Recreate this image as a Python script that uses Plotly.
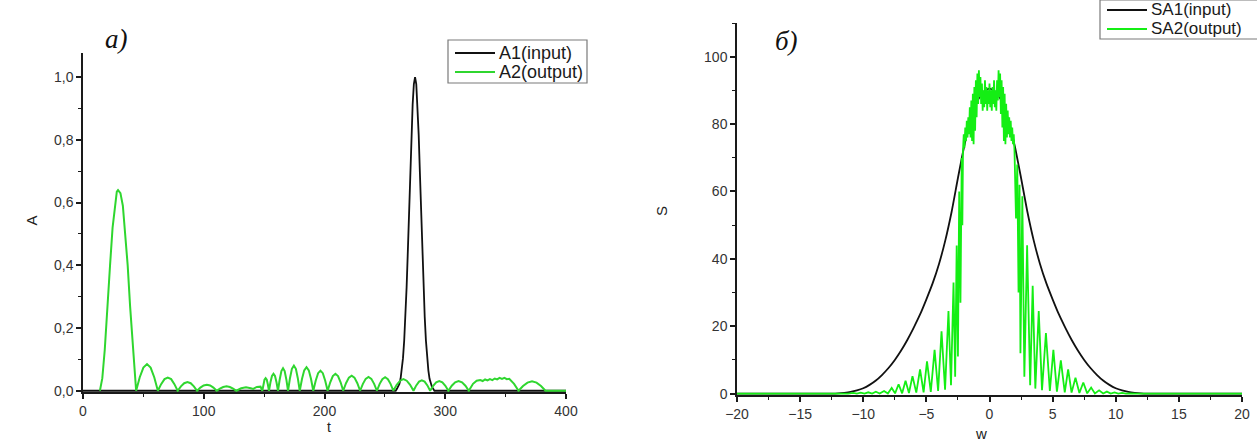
import plotly.graph_objects as go

# ---------------- left panel data: A(t) ----------------
a1_t = [0, 259, 260, 261, 262, 263, 264, 265, 266, 267, 268, 269, 270, 271, 272, 273, 274, 275,
        276, 277, 278, 279, 280, 281, 282, 283, 284, 285, 286, 287, 288, 289, 290, 291, 400]
a1_v = [0, 0, 0.006, 0.012, 0.022, 0.038, 0.065, 0.104, 0.16, 0.235, 0.33, 0.443, 0.568, 0.696, 0.816,
        0.913, 0.978, 1.0, 0.978, 0.913, 0.816, 0.696, 0.568, 0.443, 0.33, 0.235, 0.16, 0.104, 0.065,
        0.038, 0.022, 0.012, 0.006, 0, 0]

a2_t = [14, 16, 18, 19, 21, 22.4, 24.5, 26.5, 28, 29, 31, 33, 35, 37, 39, 40.3, 42, 44,
        47, 50, 53, 56, 59, 62,
        64.7, 67.5, 70.2, 73, 75.7, 78.4,
        81.1, 83.8, 86.5, 89.2, 91.8, 94.5,
        97.2, 99.9, 102.6, 105.3, 108, 110.7,
        113.4, 116.1, 118.9, 121.6, 124.3, 127,
        131, 135, 139, 141, 144, 147, 148.5,
        149.4, 150.3, 151.25, 152.2, 153.1, 154,
        155.25, 156.5, 157.75, 159, 160.25, 161.5,
        162.9, 164.3, 165.65, 167, 168.4, 169.8,
        171.4, 173, 174.65, 176.3, 177.9, 179.5,
        181.4, 183.2, 185.1, 187, 188.8, 190.7,
        192.7, 194.7, 196.65, 198.6, 200.6, 202.6,
        204.75, 206.9, 209.05, 211.2, 213.35, 215.5,
        217.8, 220.2, 222.5, 224.8, 227.2, 229.5,
        231.8, 234.1, 236.45, 238.8, 241.1, 243.4,
        245.7, 247.9, 250.2, 252.5, 254.7, 257,
        259.8, 262.6, 265.35, 268.1, 270.9, 273.7,
        276, 278.3, 280.6, 282.9, 285.2, 287.5,
        290, 292.5, 295.05, 297.6, 300.1, 302.6,
        305.4, 308.2, 311.05, 313.9, 316.7, 319.5,
        323, 326, 329, 331, 333, 335, 337, 339, 341, 343, 345, 347, 349, 351, 353, 355, 357, 360.7,
        364.4, 368.1, 371.85, 375.6, 379.3, 383, 400]
a2_v = [0, 0.04, 0.13, 0.2, 0.32, 0.4, 0.52, 0.6, 0.635, 0.64, 0.63, 0.59, 0.5, 0.4, 0.27, 0.2, 0.1, 0,
        0.043, 0.074, 0.085, 0.074, 0.043, 0,
        0.021, 0.037, 0.042, 0.037, 0.021, 0,
        0.014, 0.024, 0.028, 0.024, 0.014, 0,
        0.01, 0.017, 0.019, 0.017, 0.01, 0,
        0.007, 0.012, 0.014, 0.012, 0.007, 0,
        0.008, 0.011, 0.008, 0.006, 0.012, 0.013, 0,
        0.02, 0.035, 0.04, 0.035, 0.02, 0,
        0.027, 0.047, 0.054, 0.047, 0.027, 0,
        0.036, 0.063, 0.072, 0.063, 0.036, 0,
        0.04, 0.07, 0.08, 0.07, 0.04, 0,
        0.038, 0.065, 0.075, 0.065, 0.038, 0,
        0.032, 0.056, 0.064, 0.056, 0.032, 0,
        0.027, 0.047, 0.054, 0.047, 0.027, 0,
        0.024, 0.042, 0.048, 0.042, 0.024, 0,
        0.022, 0.038, 0.044, 0.038, 0.022, 0,
        0.022, 0.037, 0.043, 0.037, 0.022, 0,
        0.019, 0.032, 0.037, 0.032, 0.019, 0,
        0.017, 0.029, 0.033, 0.029, 0.017, 0,
        0.016, 0.027, 0.031, 0.027, 0.016, 0,
        0.016, 0.027, 0.031, 0.027, 0.016, 0,
        0.022, 0.032, 0.034, 0.031, 0.036, 0.033, 0.037, 0.034, 0.039, 0.036, 0.041, 0.038, 0.041, 0.037, 0.038, 0.031, 0.022, 0,
        0.015, 0.026, 0.03, 0.026, 0.015, 0, 0]

# ---------------- right panel data: S(w) ----------------
sa1_w = [-20, -13, -12.5, -12, -11.5, -11, -10.5, -10, -9.5, -9, -8.5, -8, -7.5, -7, -6.5, -6, -5.5, -5,
         -4.5, -4, -3.5, -3, -2.5, -2, -1.5, -1, -0.5, 0, 0.5, 1, 1.5, 2, 2.5, 3, 3.5, 4, 4.5, 5, 5.5,
         6, 6.5, 7, 7.5, 8, 8.5, 9, 9.5, 10, 10.5, 11, 11.5, 12, 12.5, 13, 20]
sa1_v = [0, 0, 0.03, 0.1, 0.25, 0.5, 0.95, 1.6, 2.6, 3.9, 5.6, 7.6, 10.0, 12.8, 16.0, 19.6, 23.5, 28,
         32.8, 38.5, 45.5, 54, 64, 73.5, 81, 86.5, 89.5, 90.5, 89.5, 86.5, 81, 73.5, 64, 54, 45.5, 38.5,
         32.8, 28, 23.5, 19.6, 16.0, 12.8, 10.0, 7.6, 5.6, 3.9, 2.6, 1.6, 0.95, 0.5, 0.25, 0.1, 0.03, 0, 0]

sa2_w = [-20, -12, -11.2, -10.8, -10.5, -10.2, -9.9, -9.6, -9.3, -9.0, -8.7, -8.35, -8.05,
         -7.75, -7.48, -7.2, -6.92, -6.65, -6.38, -6.1, -5.8, -5.5, -5.22, -4.95, -4.65, -4.35,
         -4.07, -3.8, -3.52, -3.25, -3.05, -2.85, -2.72, -2.6, -2.5, -2.4, -2.3, -2.2, -2.15,
         -2.1, -2.04, -1.98, -1.92, -1.86, -1.8, -1.74, -1.68, -1.62, -1.56, -1.5, -1.44, -1.38,
         -1.32, -1.26, -1.2, -1.14, -1.08, -1.02, -0.96, -0.9, -0.84, -0.78, -0.72, -0.66, -0.6,
         -0.54, -0.48, -0.42, -0.36, -0.3, -0.24, -0.18, -0.12, -0.06, 0.0, 0.06, 0.12, 0.18,
         0.24, 0.3, 0.36, 0.42, 0.48, 0.54, 0.6, 0.66, 0.72, 0.78, 0.84, 0.9, 0.96, 1.02, 1.08,
         1.14, 1.2, 1.26, 1.32, 1.38, 1.44, 1.5, 1.56, 1.62, 1.68, 1.74, 1.8, 1.86, 1.92, 1.98,
         2.1, 2.2, 2.3, 2.38, 2.45, 2.6, 2.76, 2.98, 3.22, 3.42, 3.63, 3.9, 4.16, 4.47, 4.78,
         5.06, 5.34, 5.65, 5.96, 6.23, 6.5, 6.81, 7.12, 7.43, 7.74, 8.05, 8.35, 8.68, 9.0, 9.3,
         9.6, 9.9, 10.2, 10.5, 10.8, 11.1, 11.6, 20]
sa2_v = [0, 0, 0.02, 0.25, 0.02, 0.3, 0.02, 0.4, 0.03, 0.55, 0.05, 0.8, 0.05,
         1.7, 0.1, 2.8, 0.1, 3.8, 0.2, 5.2, 0.3, 7.2, 0.4, 9.6, 0.5, 13,
         0.8, 18.5, 1.2, 24.5, 2.5, 33, 5, 44, 11, 60, 27, 70, 50,
         72, 77, 73, 79, 75, 81, 76, 82, 77, 85, 76, 87, 75,
         89, 74, 91, 78, 93, 82, 95, 86, 96, 88, 94, 86, 92,
         84, 90, 85, 93, 86, 91, 84, 90, 86, 92, 85, 90, 84,
         91, 86, 93, 85, 90, 84, 93, 87, 96, 88, 95, 83, 93, 79, 91,
         75, 89, 74, 86, 76, 84, 77, 82, 76, 81, 75, 79, 74, 77, 72,
         52, 68, 30, 62, 12, 58.6, 5, 44, 2.5, 32, 1.5, 24.5, 1.0, 18, 0.8, 13,
         0.6, 9.9, 0.4, 7.2, 0.3, 4.7, 0.2, 3.3, 0.1, 1.8, 0.05, 1.0, 0.04, 0.6, 0.03,
         0.35, 0.02, 0.2, 0.02, 0.1, 0, 0, 0]

# tick labels
a_ticks = [0, 0.2, 0.4, 0.6, 0.8, 1.0]
a_ticktext = ["0,0", "0,2", "0,4", "0,6", "0,8", "1,0"]
t_ticks = [0, 100, 200, 300, 400]
s_ticks = [0, 20, 40, 60, 80, 100]
w_ticks = [-20, -15, -10, -5, 0, 5, 10, 15, 20]

# legend labels
left_names = ["A1(input)", "A2(output)"]
right_names = ["SA1(input)", "SA2(output)"]

W, H = 1257, 446
BLACK = "#111111"
GREEN_L = "#2fd62f"
GREEN_R = "#14ee14"
FONT = "Liberation Sans, Arial, sans-serif"
SERIF = "Liberation Serif, Times New Roman, serif"


def px(x):
    return x / W


def py(y):
    return 1 - y / H


fig = go.Figure()
fig.add_trace(go.Scatter(x=a1_t, y=a1_v, mode="lines", name=left_names[0],
                         line=dict(color=BLACK, width=1.8), xaxis="x", yaxis="y"))
fig.add_trace(go.Scatter(x=a2_t, y=a2_v, mode="lines", name=left_names[1],
                         line=dict(color=GREEN_L, width=2), xaxis="x", yaxis="y"))
fig.add_trace(go.Scatter(x=sa1_w, y=sa1_v, mode="lines", name=right_names[0],
                         line=dict(color=BLACK, width=1.8, shape="spline", smoothing=0.6),
                         xaxis="x2", yaxis="y2"))
fig.add_trace(go.Scatter(x=sa2_w, y=sa2_v, mode="lines", name=right_names[1],
                         line=dict(color=GREEN_R, width=1.8), xaxis="x2", yaxis="y2"))

axis_common = dict(showgrid=False, zeroline=False, showline=True, linecolor="#1a1a1a", linewidth=1.5,
                   ticks="outside", ticklen=5, tickwidth=1.5, tickcolor="#1a1a1a", automargin=False,
                   tickfont=dict(family=FONT, size=14, color="#333333"))
minor_common = dict(ticks="outside", ticklen=3, tickwidth=1.2, tickcolor="#1a1a1a", showgrid=False)

fig.update_layout(
    width=W, height=H,
    margin=dict(l=0, r=0, t=0, b=0, pad=0, autoexpand=False),
    paper_bgcolor="white", plot_bgcolor="white",
    showlegend=False,
    xaxis=dict(domain=[px(83), px(566)], range=[0, 400], anchor="y",
               tickmode="array", tickvals=t_ticks,
               minor=dict(dtick=50, tick0=0, **minor_common), **axis_common),
    yaxis=dict(domain=[py(392), py(53)], range=[-0.004, 1.077], anchor="x",
               tickmode="array", tickvals=a_ticks, ticktext=a_ticktext,
               minor=dict(dtick=0.1, tick0=0, **minor_common), **axis_common),
    xaxis2=dict(domain=[px(737), px(1242)], range=[-20, 20], anchor="y2",
                tickmode="array", tickvals=w_ticks,
                minor=dict(dtick=2.5, tick0=0, **minor_common), **axis_common),
    yaxis2=dict(domain=[py(395), py(23)], range=[-0.4, 110], anchor="x2",
                tickmode="array", tickvals=s_ticks,
                minor=dict(dtick=10, tick0=0, **minor_common), **axis_common),
)

shapes = []
ann = []


# hand-built legends (box, line samples, labels)
def add_legend(x0, y0, x1, y1, rows, names, colors, line_x0, line_x1, text_x, size):
    shapes.append(dict(type="rect", xref="paper", yref="paper", x0=px(x0), x1=px(x1), y0=py(y1), y1=py(y0),
                       line=dict(color="#7a7a7a", width=1.2), fillcolor="white", layer="above"))
    for ry, nm, col in zip(rows, names, colors):
        shapes.append(dict(type="line", xref="paper", yref="paper", x0=px(line_x0), x1=px(line_x1),
                           y0=py(ry), y1=py(ry), line=dict(color=col, width=2), layer="above"))
        ann.append(dict(text=nm, x=px(text_x), y=py(ry), xref="paper", yref="paper", showarrow=False,
                        xanchor="left", yanchor="middle",
                        font=dict(family=FONT, size=size, color="#1a1a1a")))


add_legend(448, 40, 587, 83, [53, 72], left_names, [BLACK, GREEN_L], 455, 495, 497, 18)
add_legend(1100, 0, 1262, 39, [10, 29], right_names, [BLACK, GREEN_R], 1107, 1147, 1149, 17)

ann.append(dict(text="a)", x=px(103), y=py(22), xref="paper", yref="paper", showarrow=False,
                font=dict(family=SERIF, size=27, color="#111111", style="italic")))
ann.append(dict(text="б)", x=px(786), y=py(24), xref="paper", yref="paper", showarrow=False,
                font=dict(family=SERIF, size=27, color="#111111", style="italic")))
ann.append(dict(text="A", x=px(20), y=py(221), xref="paper", yref="paper", showarrow=False, textangle=-90,
                font=dict(family=FONT, size=15, color="#222222")))
ann.append(dict(text="t", x=px(325), y=py(437), xref="paper", yref="paper", showarrow=False,
                font=dict(family=FONT, size=14, color="#222222")))
ann.append(dict(text="S", x=px(662), y=py(211), xref="paper", yref="paper", showarrow=False, textangle=-90,
                font=dict(family=FONT, size=15, color="#222222")))
ann.append(dict(text="w", x=px(989), y=py(444), xref="paper", yref="paper", showarrow=False,
                font=dict(family=FONT, size=15, color="#222222")))

fig.update_layout(shapes=shapes, annotations=ann)

fig.write_html("out.html")
